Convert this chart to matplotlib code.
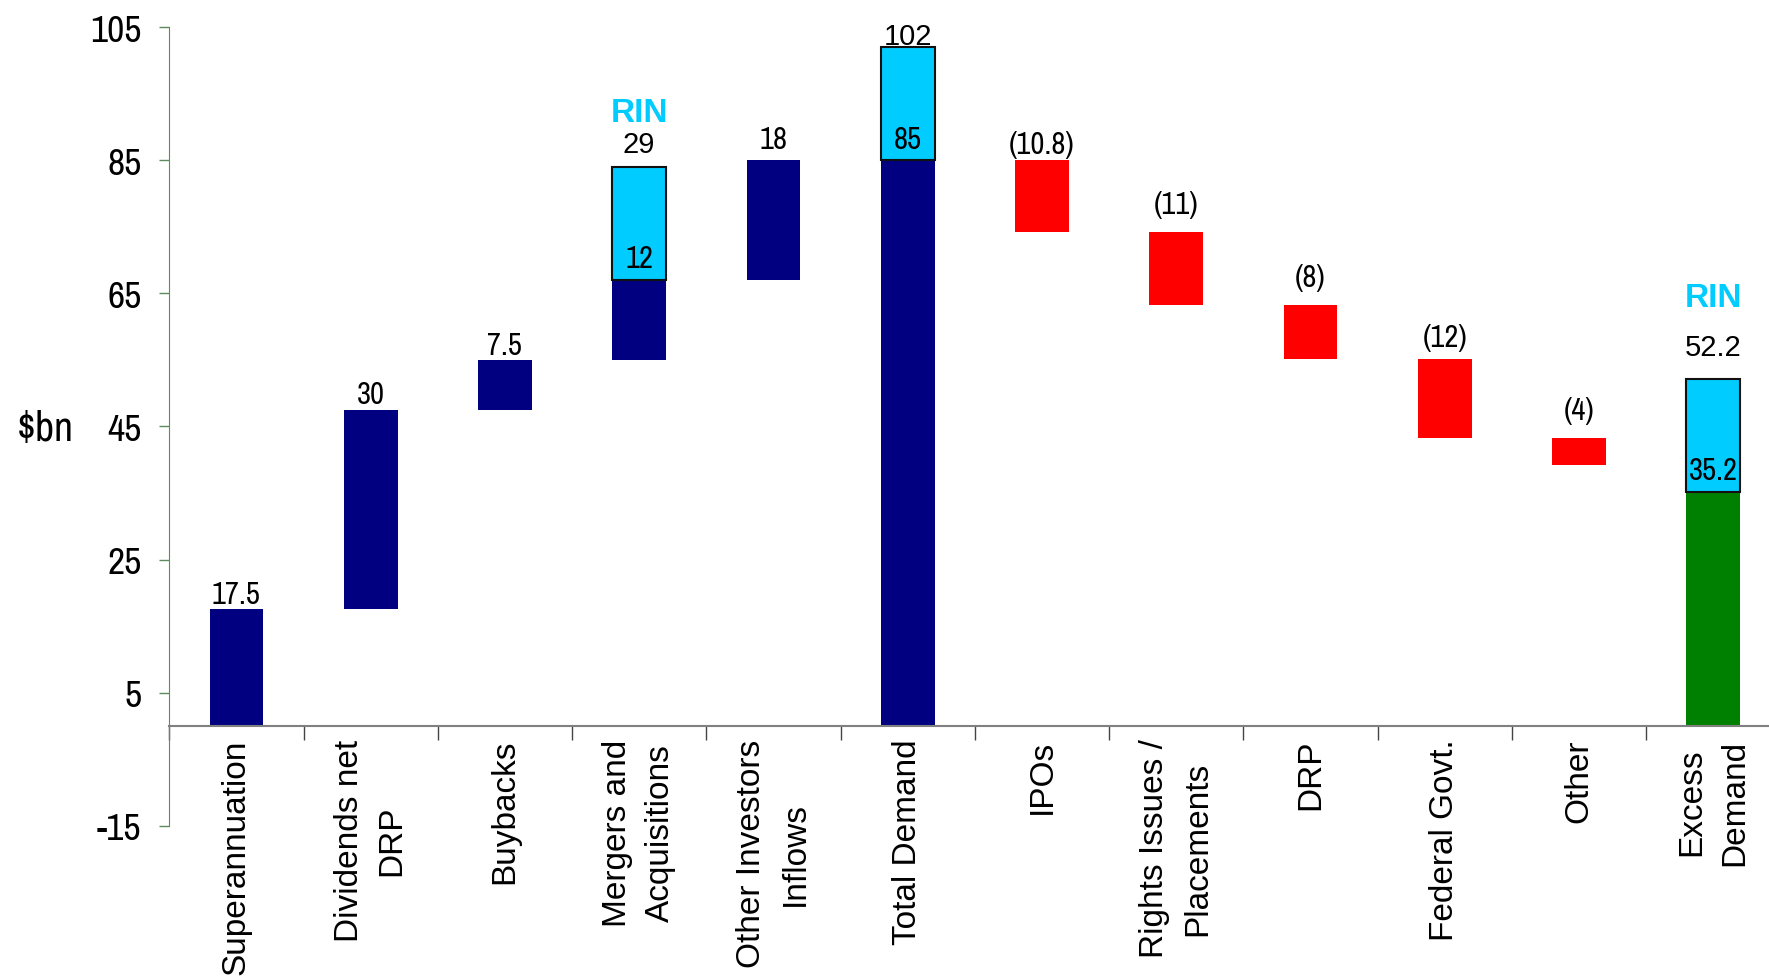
import numpy as np
import matplotlib as mpl
mpl.use('Agg')
import matplotlib.pyplot as plt
from matplotlib import font_manager as fm

categories = ['Superannuation', 'Dividends net\nDRP', 'Buybacks', 'Mergers and\nAcquisitions',
              'Other Investors\nInflows', 'Total Demand', 'IPOs', 'Rights Issues /\nPlacements',
              'DRP', 'Federal Govt.', 'Other', 'Excess\nDemand']
# non-RIN flows in $bn (None = total bar)
flows = [17.5, 30, 7.5, 12, 18, None, -10.8, -11, -8, -12, -4, None]
flow_labels = ['17.5', '30', '7.5', '12', '18', '85', '(10.8)', '(11)', '(8)', '(12)', '(4)', '35.2']
ma_rin = 17
total_demand = 85
total_rin = 17
excess = 35.2
excess_rin = 17
top_labels = {3: '29', 5: '102', 11: '52.2'}

# gap between a bar and its label (data units), as in the original
label_gap = [0.25, 0.25, 0.2, 1.15, 1.15, 1.15, 0.4, 2.15, 2.15, 1.15, 2.15, 1.15]

NAVY = '#000080'
CYAN = '#00ccff'
RED = '#ff0000'
GREEN = '#008000'

# look for a condensed face, otherwise Roboto (narrower than DejaVu)
names = sorted(set(f.name for f in fm.fontManager.ttflist))
cond = [n for n in names if 'Narrow' in n or 'Condensed' in n]
narrow = [cond[0], 'DejaVu Sans'] if cond else ['Roboto', 'DejaVu Sans']
regular = ['Liberation Sans', 'DejaVu Sans']
plt.rcParams['axes.unicode_minus'] = False

fig = plt.figure(figsize=(17.69, 9.79), dpi=100)
ax = fig.add_axes([0.0957, 0.1555, 0.9107, 0.8157])

x = np.arange(len(categories))
w = 0.4
running = 0.0
for i, f in enumerate(flows):
    g = label_gap[i]
    if i == 5:
        ax.bar(i, total_demand, w, bottom=0, color=NAVY)
        ax.bar(i, total_rin, w, bottom=total_demand, color=CYAN, edgecolor='#111111', linewidth=1.5)
        ax.text(i, total_demand + g, flow_labels[i], ha='center', va='bottom', fontsize=22,
                family=narrow)
        ax.text(i, total_demand + total_rin - 0.4, top_labels[i], ha='center', va='bottom',
                fontsize=21, family=regular)
        running = total_demand
        continue
    if i == 11:
        ax.bar(i, excess, w, bottom=0, color=GREEN)
        ax.bar(i, excess_rin, w, bottom=excess, color=CYAN, edgecolor='#111111', linewidth=1.5)
        ax.text(i, excess + g, flow_labels[i], ha='center', va='bottom', fontsize=22,
                family=narrow)
        ax.text(i, excess + excess_rin + 2.6, top_labels[i], ha='center', va='bottom',
                fontsize=21, family=regular)
        ax.text(i, excess + excess_rin + 9.8, 'RIN', ha='center', va='bottom', fontsize=24,
                fontweight='bold', color=CYAN, family=regular)
        continue
    if f >= 0:
        ax.bar(i, f, w, bottom=running, color=NAVY)
        top = running + f
        running = top
    else:
        ax.bar(i, -f, w, bottom=running + f, color=RED)
        top = running
        running = running + f
    if i == 3:
        ax.bar(i, ma_rin, w, bottom=running, color=CYAN, edgecolor='#111111', linewidth=1.5)
        ax.text(i, running + g, flow_labels[i], ha='center', va='bottom', fontsize=22,
                family=narrow)
        ax.text(i, running + ma_rin + 1.4, top_labels[i], ha='center', va='bottom',
                fontsize=21, family=regular)
        ax.text(i, running + ma_rin + 5.9, 'RIN', ha='center', va='bottom', fontsize=24,
                fontweight='bold', color=CYAN, family=regular)
    else:
        ax.text(i, top + g, flow_labels[i], ha='center', va='bottom', fontsize=22,
                family=narrow)

ax.set_xlim(-0.5, len(categories) - 0.5)
ax.set_ylim(-15, 105)
ax.set_yticks([-15, 5, 25, 45, 65, 85, 105])
for lab in ax.get_yticklabels():
    lab.set_family(narrow)
    lab.set_fontsize(27)
ax.tick_params(axis='y', length=7, width=1, color='#5f8a5f', pad=13)

ax.spines['top'].set_visible(False)
ax.spines['right'].set_visible(False)
ax.spines['left'].set_color('#5f8a5f')
ax.spines['bottom'].set_position(('data', 0))
ax.spines['bottom'].set_color('#808080')
ax.spines['bottom'].set_linewidth(1.5)

ax.set_xticks(x)
ax.set_xticklabels(categories, rotation=90, ha='center', va='top', multialignment='center',
                   fontsize=24, family=regular, linespacing=1.5)
ax.set_xticks(np.arange(len(categories) + 1) - 0.5, minor=True)
ax.tick_params(axis='x', which='major', length=0, pad=9)
ax.tick_params(axis='x', which='minor', length=10, width=1, color='#444444')

fig.text(0.0255, 1 - 380 / 868, r'\$bn', ha='center', va='center', fontsize=30,
         family=narrow, fontweight='bold')

plt.savefig('out.png', facecolor='w', dpi=100)
